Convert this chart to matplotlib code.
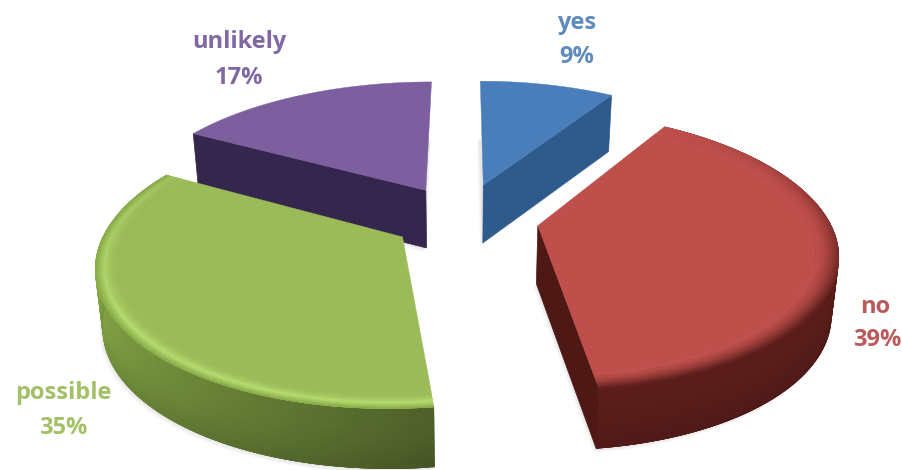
import numpy as np
import matplotlib
matplotlib.use('Agg')
import matplotlib.pyplot as plt
from matplotlib.collections import PolyCollection
from matplotlib.colors import to_rgb

categories = ['yes', 'no', 'possible', 'unlikely']
shares = [9, 39, 35, 17]

top_colors = ['#4a7ebb', '#be4f4b', '#9bbb59', '#7d5fa0']
wall_colors = ['#2f5a8c', '#5a1d1a', '#86a846', '#35264d']
wall_dark = ['#2f5a8c', '#4e1815', '#4f602a', '#35264d']
text_colors = ['#5f8bbd', '#bb5a5c', '#a3c066', '#7f68a3']

# camera and pie layout, pixels
cx, cy = 463, 217
a, b, k = 292, 133, 0.179
explode = 0.26
depth = 58

# small per slice corrections: radius, x shift, y shift
fit = {'yes': (1, 0, 0), 'no': (0.995, 0, 1), 'possible': (1, 4, 0), 'unlikely': (1.04, 0, 2)}

label_pos = {'yes': (577, 23, 57), 'no': (875, 307, 340),
             'possible': (63, 393, 428), 'unlikely': (239, 42, 78)}


def project(x, y, z=0.0):
    s = 1 / (1 - k * y)
    px, py = cx + a * x * s, cy + b * y * s + z * depth / (1 - 0.03 * y)
    # verticals lean in a little to the centre
    return cx + (px - cx) * (1 - 0.02 * z), py


def mix(c1, c2, t):
    c1, c2 = np.array(to_rgb(c1)), np.array(to_rgb(c2))
    return tuple(c1 + (c2 - c1) * t)


fig = plt.figure(figsize=(9.03, 4.70), dpi=100)
ax = fig.add_axes([0, 0, 1, 1])
ax.set_xlim(0, 903)
ax.set_ylim(470, 0)
ax.axis('off')

# angles are clockwise from 12 o'clock, y goes to the viewer
edges = np.cumsum([0] + shares) * 3.6
wedges = {}
for i, name in enumerate(categories):
    wedges[name] = (i, np.radians(edges[i]), np.radians(edges[i + 1]))


def slice_point(name):
    i, t0, t1 = wedges[name]
    mid = (t0 + t1) / 2
    ox, oy = explode * np.sin(mid), -explode * np.cos(mid)
    big_r, dx, dy = fit[name]

    def pt(r, t, z=0.0):
        px, py = project(ox + big_r * r * np.sin(t), oy - big_r * r * np.cos(t), z)
        return px + dx, py + dy
    return pt


def draw_shadow(name):
    i, t0, t1 = wedges[name]
    pt = slice_point(name)
    outline = [pt(0, t0, 1)] + [pt(1, t, 1) for t in np.linspace(t0, t1, 120)]
    for off in (6, 4.5, 3, 1.5):
        shadow = [(p[0] - off * 0.5, p[1] + off * 0.7) for p in outline]
        ax.fill(*zip(*shadow), color='#000000', alpha=0.025, lw=0)


def draw_wedge(name):
    i, t0, t1 = wedges[name]
    pt = slice_point(name)
    th = np.linspace(t0, t1, 120)

    # outer wall, only seen on the two front slices
    if name in ('no', 'possible'):
        zs = np.linspace(0, 1, 9)
        polys, cols = [], []
        for j in range(len(th) - 1):
            base = mix(wall_dark[i], wall_colors[i], min(1, j / (len(th) - 2) * 1.6))
            j2 = min(j + 2, len(th) - 1)
            for m in range(len(zs) - 1):
                # cells overlap the next ones so no seams show
                m2 = min(m + 2, len(zs) - 1)
                polys.append([pt(1, th[j], zs[m]), pt(1, th[j2], zs[m]),
                              pt(1, th[j2], zs[m2]), pt(1, th[j], zs[m2])])
                cols.append(mix(base, '#000000', 0.12 * (m / 7) ** 2))
        ax.add_collection(PolyCollection(polys, facecolors=cols, edgecolors='none'))

    # radial wall that faces the viewer
    t_wall = {'yes': t1, 'no': t1, 'unlikely': t0}.get(name)
    if t_wall is not None:
        poly = [pt(0, t_wall), pt(1, t_wall), pt(1, t_wall, 1), pt(0, t_wall, 1)]
        ax.fill(*zip(*poly), color=wall_dark[i], lw=0.5)

    # top face
    rim = 0.925 if name in ('no', 'possible') else 1.0
    poly = [pt(0, t0)] + [pt(rim, t) for t in th]
    ax.fill(*zip(*poly), color=top_colors[i], lw=0.3)

    # bevel on the two big slices
    if rim < 1:
        rs = np.linspace(rim, 1, 15)
        polys, cols = [], []
        for j in range(len(th) - 1):
            front = -np.cos(th[j])
            power = np.clip(0.6 + 0.7 * front, 0, 1)
            j2 = min(j + 2, len(th) - 1)
            for m in range(len(rs) - 1):
                u = (m + 0.5) / (len(rs) - 1)
                if name == 'possible':
                    hi = mix(top_colors[i], '#b6dc70', power)
                    if u < 0.6:
                        c = mix(top_colors[i], hi, (u / 0.6) ** 2)
                    else:
                        c = mix(hi, wall_colors[i], (u - 0.6) / 0.4)
                else:
                    c = mix(top_colors[i], wall_colors[i], (u ** 1.6) * power)
                m2 = min(m + 2, len(rs) - 1)
                polys.append([pt(rs[m], th[j]), pt(rs[m], th[j2]),
                              pt(rs[m2], th[j2]), pt(rs[m2], th[j])])
                cols.append(c)
        ax.add_collection(PolyCollection(polys, facecolors=cols, edgecolors='none'))


for name in categories:
    draw_shadow(name)

for name in ['unlikely', 'yes', 'possible', 'no']:
    draw_wedge(name)

for name, share in zip(categories, shares):
    i = categories.index(name)
    x, y1, y2 = label_pos[name]
    ax.text(x, y1, name, ha='center', va='center', family='Open Sans', weight='bold',
            fontsize=17, color=text_colors[i])
    ax.text(x + (2 if name == 'no' else 0), y2, f'{share}%', ha='center', va='center',
            family='Open Sans', weight='bold', fontsize=17, color=text_colors[i])

fig.savefig('out.png', dpi=100)
